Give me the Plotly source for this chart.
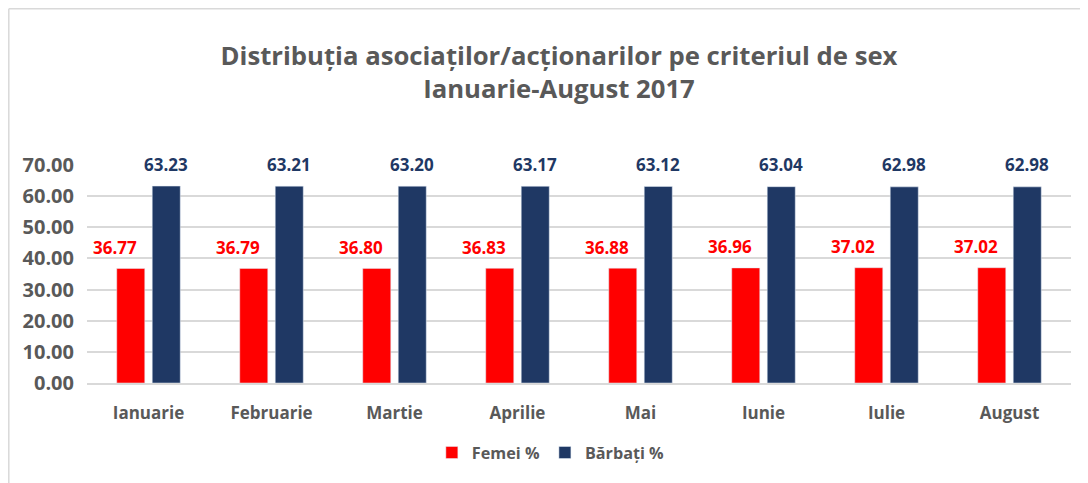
import plotly.graph_objects as go

months = ["Ianuarie", "Februarie", "Martie", "Aprilie", "Mai", "Iunie", "Iulie", "August"]
femei = [36.77, 36.79, 36.80, 36.83, 36.88, 36.96, 37.02, 37.02]
barbati = [63.23, 63.21, 63.20, 63.17, 63.12, 63.04, 62.98, 62.98]
y_ticks = [0, 10, 20, 30, 40, 50, 60, 70]

RED = "#FF0000"
NAVY = "#1F3864"
GRAY = "#595959"
FONT = "Open Sans"

fig = go.Figure()
fig.add_trace(go.Bar(x=months, y=femei, name="Femei %", marker_color=RED))
fig.add_trace(go.Bar(x=months, y=barbati, name="Bărbați %", marker_color=NAVY))

annotations = []
for m, f, b in zip(months, femei, barbati):
    annotations.append(dict(x=m, y=f, xref="x", yref="y", text=f"{f:.2f}",
                            showarrow=False, xshift=-34, yshift=21, yanchor="middle",
                            font=dict(family=FONT, size=17, color=RED, weight="bold")))
    annotations.append(dict(x=m, y=b, xref="x", yref="y", text=f"{b:.2f}",
                            showarrow=False, xshift=17, yshift=22, yanchor="middle",
                            font=dict(family=FONT, size=17, color=NAVY, weight="bold")))

# page body adds an 8px offset; plot area on screen: x 87..1071, y 165..383
BX = (0.8 - 79) / 984
BY = 1 + (157 - 0.8) / 218
fig.update_layout(
    width=1088, height=483,
    margin=dict(l=79, r=25, t=157, b=108, autoexpand=False),
    paper_bgcolor="white", plot_bgcolor="white",
    barmode="group", bargap=0.423, bargroupgap=0.21,
    font=dict(family=FONT, color=GRAY),
    title=dict(text="Distribuția asociaților/acționarilor pe criteriul de sex<br>Ianuarie-August 2017",
               x=551 / 1088, xanchor="center", yref="container", y=1 - 57 / 483, yanchor="middle",
               font=dict(family=FONT, size=25.7, color=GRAY, weight="bold")),
    legend=dict(orientation="h", x=0.4714, xanchor="center", y=-0.321, yanchor="middle",
                font=dict(family=FONT, size=16.2, color=GRAY, weight="bold"), itemwidth=30,
                traceorder="normal"),
    annotations=annotations,
    shapes=[
        dict(type="line", xref="paper", yref="paper", x0=BX, x1=1.05, y0=BY, y1=BY,
             line=dict(color="#D9D9D9", width=1.5)),
        dict(type="line", xref="paper", yref="paper", x0=BX, x1=BX, y0=BY, y1=-0.6,
             line=dict(color="#D9D9D9", width=1.5)),
    ],
)
fig.update_xaxes(tickfont=dict(family=FONT, size=17, color=GRAY, weight="bold"), ticks="outside",
                 ticklen=14, tickcolor="rgba(0,0,0,0)", showline=True, linecolor="#D9D9D9",
                 linewidth=1.5, automargin=False)
fig.update_yaxes(range=[0, 70], tickvals=y_ticks, tickformat=".2f",
                 tickfont=dict(family=FONT, size=20, color=GRAY, weight="bold"), ticks="outside",
                 ticklen=8, tickcolor="rgba(0,0,0,0)", gridcolor="#D9D9D9", gridwidth=1.5,
                 zeroline=False, showline=False, automargin=False)

fig.write_html("out.html")
